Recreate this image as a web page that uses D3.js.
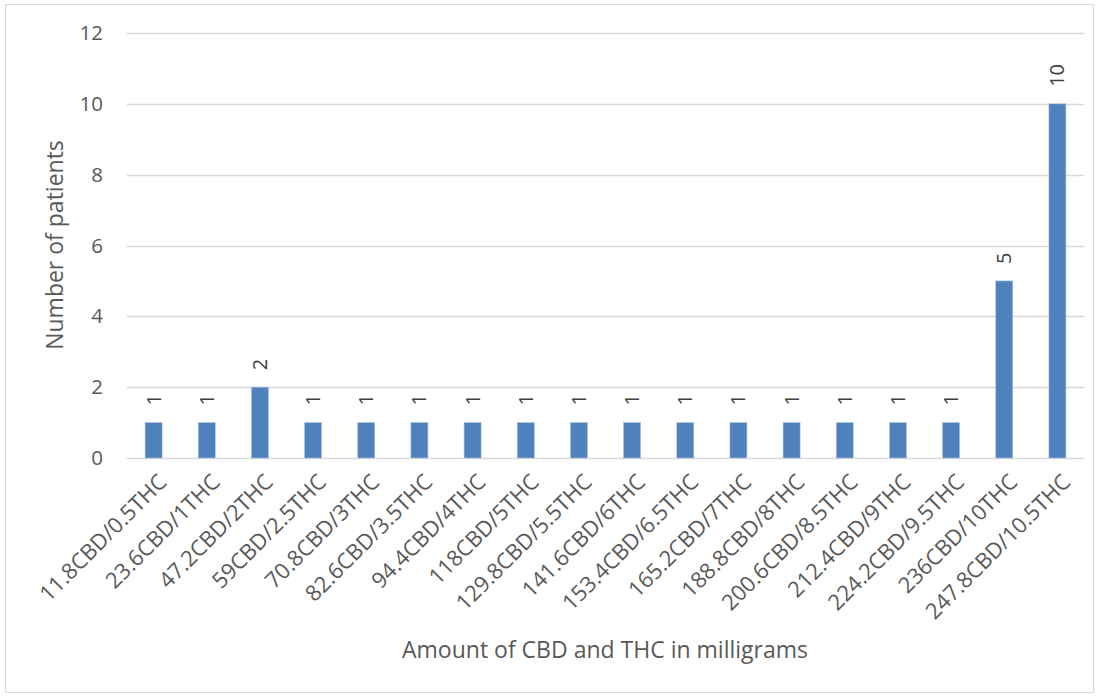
<!DOCTYPE html>
<html>
<head>
<meta charset="utf-8">
<script src="https://cdn.jsdelivr.net/npm/d3@7/dist/d3.min.js"></script>
<style>
html,body{margin:0;padding:0;background:#fff;}
svg{display:block;}
text{font-family:"Open Sans","Noto Sans",sans-serif;}
</style>
</head>
<body>
<svg id="chart" width="1100" height="697"></svg>
<script>
const categories = ["11.8CBD/0.5THC","23.6CBD/1THC","47.2CBD/2THC","59CBD/2.5THC","70.8CBD/3THC","82.6CBD/3.5THC","94.4CBD/4THC","118CBD/5THC","129.8CBD/5.5THC","141.6CBD/6THC","153.4CBD/6.5THC","165.2CBD/7THC","188.8CBD/8THC","200.6CBD/8.5THC","212.4CBD/9THC","224.2CBD/9.5THC","236CBD/10THC","247.8CBD/10.5THC"];
const patients = [1,1,2,1,1,1,1,1,1,1,1,1,1,1,1,1,5,10];
const yTicks = [0,2,4,6,8,10,12];
const xTitle = "Amount of CBD and THC in milligrams";
const yTitle = "Number of patients";

(function(){
const svg = d3.select("#chart");
svg.append("rect").attr("x",5.5).attr("y",4.5).attr("width",1088).attr("height",688)
  .attr("fill","#fff").attr("stroke","#d9d9d9").attr("stroke-width",1);

const pLeft = 127, pRight = 1084, pTop = 33, pBottom = 458;
const x = d3.scaleBand().domain(categories).range([pLeft,pRight]).paddingInner(0.68).paddingOuter(0.34);
const y = d3.scaleLinear().domain([0,12]).range([pBottom,pTop]);

// gridlines
svg.append("g").selectAll("line").data(yTicks).join("line")
  .attr("x1",pLeft).attr("x2",pRight)
  .attr("y1",d=>Math.round(y(d))+0.5).attr("y2",d=>Math.round(y(d))+0.5)
  .attr("stroke","#d9d9d9").attr("stroke-width",1.3);

// y axis labels
const yAxis = d3.axisLeft(y).tickValues(yTicks).tickSize(0).tickPadding(0);
const gy = svg.append("g").attr("transform",`translate(${pLeft-24},0)`).call(yAxis);
gy.select(".domain").remove();
gy.selectAll("text").attr("fill","#595959").style("font-size","20.5px").style("font-family","'Open Sans',sans-serif");

// bars
svg.append("g").selectAll("rect").data(patients).join("rect")
  .attr("x",(d,i)=>x(categories[i]))
  .attr("width",x.bandwidth())
  .attr("y",d=>y(d))
  .attr("height",d=>y(0)-y(d))
  .attr("fill","#4f81bd").attr("stroke","#a9c1e0").attr("stroke-width",0.6);

// data labels
svg.append("g").selectAll("text").data(patients).join("text")
  .attr("transform",(d,i)=>`translate(${x(categories[i])+x.bandwidth()/2},${y(d)-17}) rotate(-90)`)
  .attr("dy","0.35em").attr("text-anchor","start")
  .attr("fill","#404040").style("font-size","20px")
  .text(d=>d);

// x axis labels
const xAxis = d3.axisBottom(x).tickSize(0).tickPadding(0);
const gx = svg.append("g").attr("transform",`translate(0,${pBottom})`).call(xAxis);
gx.select(".domain").remove();
gx.selectAll("text")
  .attr("fill","#595959").style("font-size","22px").style("font-family","'Open Sans',sans-serif")
  .attr("text-anchor","end")
  .attr("dy","0.35em")
  .attr("transform","translate(9,20) rotate(-45)")
  .attr("y",0).attr("x",0);

// titles
svg.append("text").attr("x",605).attr("y",658).attr("text-anchor","middle")
  .attr("fill","#595959").style("font-size","23px").text(xTitle);
svg.append("text").attr("transform","translate(63,245) rotate(-90)").attr("text-anchor","middle")
  .attr("fill","#595959").style("font-size","23px").text(yTitle);
})();
</script>
</body>
</html>
